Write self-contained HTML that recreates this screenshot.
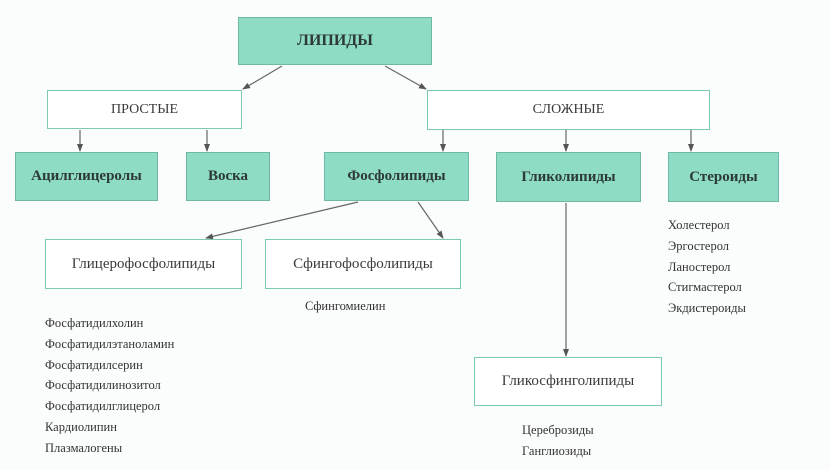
<!DOCTYPE html>
<html><head><meta charset="utf-8"><style>
body{margin:0;width:830px;height:470px;background:#fbfdfc;position:relative;overflow:hidden;font-family:"Liberation Serif",serif;color:#333}
.b{position:absolute;box-sizing:border-box;display:flex;align-items:center;justify-content:center;border:1.5px solid #7cc9b3}
.g{background:#8fdcc6;font-weight:bold;font-size:15px;color:#2c3a36;border-color:#6fb9a4}
.w{background:#fff;font-size:15px;color:#3a3a3a}
.t{position:absolute;font-size:12.5px;line-height:20.8px;color:#333}
svg{position:absolute;left:0;top:0}
</style></head><body>
<svg width="830" height="470">
<defs><marker id="a" markerWidth="8" markerHeight="8" refX="7" refY="4" orient="auto" markerUnits="userSpaceOnUse"><path d="M0,1 L8,4 L0,7 Z" fill="#555"/></marker></defs>
<g stroke="#666" stroke-width="1.2" fill="none" marker-end="url(#a)">
<line x1="282" y1="66" x2="243" y2="89"/>
<line x1="385" y1="66" x2="426" y2="89"/>
<line x1="80" y1="130" x2="80" y2="151"/>
<line x1="207" y1="130" x2="207" y2="151"/>
<line x1="443" y1="130" x2="443" y2="151"/>
<line x1="566" y1="130" x2="566" y2="151"/>
<line x1="691" y1="130" x2="691" y2="151"/>
<line x1="358" y1="202" x2="206" y2="238"/>
<line x1="418" y1="202" x2="443" y2="238"/>
<line x1="566" y1="203" x2="566" y2="356"/>
</g></svg>
<div class="b g" style="left:238px;top:17px;width:194px;height:48px;font-size:16px">ЛИПИДЫ</div>
<div class="b w" style="left:47px;top:90px;width:195px;height:39px;font-size:14px">ПРОСТЫЕ</div>
<div class="b w" style="left:427px;top:90px;width:283px;height:40px;font-size:14px">СЛОЖНЫЕ</div>
<div class="b g" style="left:15px;top:152px;width:143px;height:49px">Ацилглицеролы</div>
<div class="b g" style="left:186px;top:152px;width:84px;height:49px">Воска</div>
<div class="b g" style="left:324px;top:152px;width:145px;height:49px">Фосфолипиды</div>
<div class="b g" style="left:496px;top:152px;width:145px;height:50px">Гликолипиды</div>
<div class="b g" style="left:668px;top:152px;width:111px;height:50px">Стероиды</div>
<div class="b w" style="left:45px;top:239px;width:197px;height:50px">Глицерофосфолипиды</div>
<div class="b w" style="left:265px;top:239px;width:196px;height:50px">Сфингофосфолипиды</div>
<div class="b w" style="left:474px;top:357px;width:188px;height:49px">Гликосфинголипиды</div>
<div class="t" style="left:668px;top:215px">Холестерол<br>Эргостерол<br>Ланостерол<br>Стигмастерол<br>Экдистероиды</div>
<div class="t" style="left:305px;top:296px">Сфингомиелин</div>
<div class="t" style="left:45px;top:313px">Фосфатидилхолин<br>Фосфатидилэтаноламин<br>Фосфатидилсерин<br>Фосфатидилинозитол<br>Фосфатидилглицерол<br>Кардиолипин<br>Плазмалогены</div>
<div class="t" style="left:522px;top:420px">Цереброзиды<br>Ганглиозиды</div>
</body></html>
